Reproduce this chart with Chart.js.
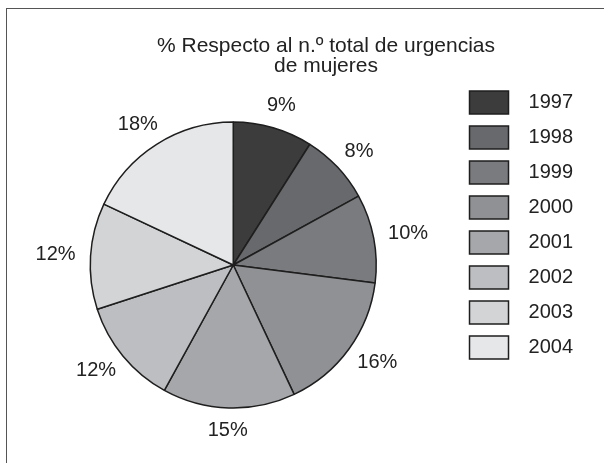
<!DOCTYPE html>
<html>
<head>
<meta charset="utf-8">
<script src="https://cdn.jsdelivr.net/npm/chart.js@4.4.1/dist/chart.umd.min.js"></script>
<style>
    html, body { margin: 0; padding: 0; background: #fff; }
    #wrap { position: relative; width: 604px; height: 463px; overflow: hidden; }
    #frame { position: absolute; left: 6px; top: 8px; width: 700px; height: 600px;
             border-left: 1px solid #555; border-top: 1px solid #555; }
    #chart { position: absolute; left: 0; top: 0; }
</style>
</head>
<body>
<div id="wrap">
    <div id="frame"></div>
    <canvas id="chart" width="604" height="463"></canvas>
</div>
<script>
    // datos de la gráfica
    const titleLines = ['% Respecto al n.º total de urgencias', 'de mujeres'];
    const years = ['1997', '1998', '1999', '2000', '2001', '2002', '2003', '2004'];
    const shares = [9, 8, 10, 16, 15, 12, 12, 18];
    const sliceColors = ['#3c3c3c', '#68696c', '#7a7b7e', '#909194', '#a6a7aa', '#bdbec1', '#d3d4d6', '#e6e7e8'];

    const FONT = '"Liberation Sans", Arial, Helvetica, sans-serif';
    const TEXT_COLOR = '#222';

    // titulo dibujado a mano (centrado sobre el marco, no sobre el canvas)
    const titlePlugin = {
        id: 'frameTitle',
        afterDraw(chart) {
            const ctx = chart.ctx;
            ctx.save();
            ctx.font = '21px ' + FONT;
            ctx.fillStyle = TEXT_COLOR;
            ctx.textAlign = 'center';
            ctx.textBaseline = 'alphabetic';
            titleLines.forEach((line, i) => ctx.fillText(line, 326, 52 + i * 20));
            ctx.restore();
        }
    };

    // etiquetas de porcentaje fuera de cada sector
    const pctLabels = {
        id: 'pctLabels',
        afterDatasetsDraw(chart) {
            const ctx = chart.ctx;
            const meta = chart.getDatasetMeta(0);
            ctx.save();
            ctx.font = '20px ' + FONT;
            ctx.fillStyle = TEXT_COLOR;
            ctx.textAlign = 'center';
            ctx.textBaseline = 'middle';
            meta.data.forEach((arc, i) => {
                const p = arc.getProps(['x', 'y', 'startAngle', 'endAngle', 'outerRadius'], true);
                const mid = (p.startAngle + p.endAngle) / 2;
                const cos = Math.cos(mid), sin = Math.sin(mid);
                const text = shares[i] + '%';
                const w = ctx.measureText(text).width;
                const r = p.outerRadius + 15;
                ctx.fillText(text, p.x + cos * r + cos * w / 2, p.y + sin * r + sin * 8);
            });
            ctx.restore();
        }
    };

    new Chart(document.getElementById('chart'), {
        type: 'pie',
        data: {
            labels: years,
            datasets: [{
                data: shares,
                backgroundColor: sliceColors,
                borderColor: '#1e1e1e',
                borderWidth: 1.5
            }]
        },
        options: {
            responsive: false,
            animation: false,
            events: [],
            radius: 143,
            layout: { padding: { top: 79, bottom: 12, left: 9, right: 31 } },
            plugins: {
                title: { display: false },
                tooltip: { enabled: false },
                legend: {
                    position: 'right',
                    align: 'start',
                    labels: {
                        boxWidth: 39,
                        boxHeight: 23,
                        padding: 12,
                        color: TEXT_COLOR,
                        textAlign: 'right',
                        font: { family: FONT, size: 20 }
                    }
                }
            }
        },
        plugins: [titlePlugin, pctLabels]
    });
</script>
</body>
</html>
